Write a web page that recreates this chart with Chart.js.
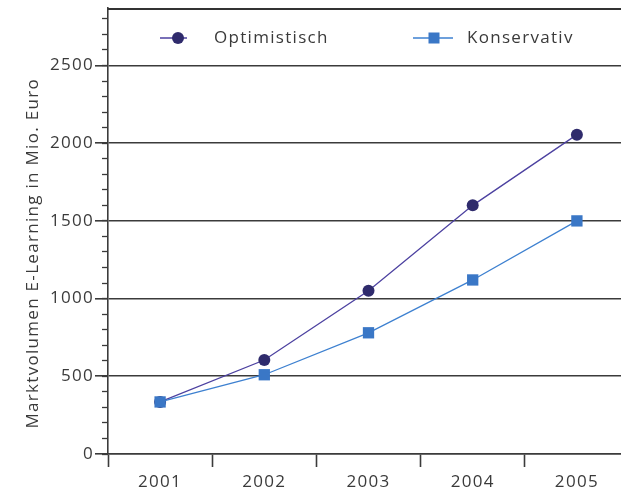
<!DOCTYPE html>
<html>
<head>
<meta charset="utf-8">
<script src="https://cdn.jsdelivr.net/npm/chart.js@4.4.1/dist/chart.umd.min.js"></script>
<style>
html, body { margin: 0; padding: 0; background: #fff; overflow: hidden; }
#wrap { width: 637px; height: 493px; }
canvas { display: block; }
</style>
</head>
<body>
<div id="wrap"><canvas id="chart" width="637" height="493"></canvas></div>
<script>
// values
const years = ['2001', '2002', '2003', '2004', '2005'];
const optimistisch = [335, 605, 1050, 1600, 2055];
const konservativ = [335, 510, 780, 1120, 1500];
const yMax = 2870;
const yTitle = 'Marktvolumen E-Learning in Mio. Euro';

const textColor = '#3a3a3a';
const lineColor = '#3b3b3b';
const font = '"Open Sans", sans-serif';

var ctx = document.getElementById('chart').getContext('2d');

// the source font is wide-set, so space the letters a bit
const spacingPlugin = {
    id: 'spacing',
    beforeUpdate: function(chart) { chart.ctx.letterSpacing = '1.3px'; },
    beforeDraw: function(chart) { chart.ctx.letterSpacing = '1.3px'; }
};

// top frame line, legend inside the plot and the axis title
const extrasPlugin = {
    id: 'extras',
    afterDraw: function(chart) {
        const c = chart.ctx;
        const area = chart.chartArea;
        const topY = chart.scales.y.getPixelForValue(yMax);
        c.save();
        c.strokeStyle = '#333333';
        c.lineWidth = 2;
        c.beginPath();
        c.moveTo(area.left, topY + 1);
        c.lineTo(area.right, topY + 1);
        c.stroke();

        const ly = area.top + 30;
        const items = [
            { x: 160, len: 27, mark: 18, ds: chart.data.datasets[1] },
            { x: 413, len: 40, mark: 21, ds: chart.data.datasets[0] }
        ];
        items.forEach(function(it) {
            c.strokeStyle = it.ds.borderColor;
            c.lineWidth = 1.5;
            c.beginPath();
            c.moveTo(it.x, ly);
            c.lineTo(it.x + it.len, ly);
            c.stroke();
            c.fillStyle = it.ds.pointBackgroundColor;
            if (it.ds.pointStyle === 'rect') {
                c.fillRect(it.x + it.mark - 5.5, ly - 5.5, 11, 11);
            } else {
                c.beginPath();
                c.arc(it.x + it.mark, ly, 6, 0, Math.PI * 2);
                c.fill();
            }
            c.fillStyle = textColor;
            c.font = '17px ' + font;
            c.textBaseline = 'middle';
            c.textAlign = 'left';
            c.fillText(it.ds.label, it.x + 54, ly);
        });

        c.translate(33, area.top + (area.bottom - area.top) * 0.55);
        c.rotate(-Math.PI / 2);
        c.font = '17px ' + font;
        c.textAlign = 'center';
        c.textBaseline = 'middle';
        c.fillStyle = textColor;
        c.fillText(yTitle, 0, 0);
        c.restore();
    }
};

var chart = new Chart(ctx, {
    type: 'line',
    data: {
        labels: years,
        datasets: [{
            label: 'Konservativ',
            data: konservativ,
            borderColor: '#3d80d0',
            borderWidth: 1.3,
            pointStyle: 'rect',
            pointRadius: 8,
            pointBorderWidth: 0,
            pointBackgroundColor: '#3a77c6',
            order: 0
        }, {
            label: 'Optimistisch',
            data: optimistisch,
            borderColor: '#4c41a0',
            borderWidth: 1.3,
            pointStyle: 'circle',
            pointRadius: 6,
            pointBorderWidth: 0,
            pointBackgroundColor: '#2f2b6c',
            order: 1
        }]
    },
    options: {
        responsive: false,
        animation: false,
        layout: { padding: { top: 7, right: 4, left: 0, bottom: 0 } },
        plugins: {
            legend: { display: false },
            tooltip: { enabled: false }
        },
        scales: {
            x: {
                offset: true,
                grid: {
                    offset: true,
                    drawOnChartArea: false,
                    tickLength: 13,
                    tickWidth: 1.6,
                    tickColor: lineColor
                },
                border: { display: true, color: lineColor, width: 1.6 },
                ticks: {
                    color: textColor,
                    font: { family: font, size: 17 },
                    padding: 5,
                    maxRotation: 0
                },
                afterFit: function(scale) {
                    scale.height = 39;
                    scale.paddingLeft = 0;
                    scale.paddingRight = 0;
                }
            },
            y: {
                position: 'left',
                weight: 1,
                min: 0,
                max: yMax,
                grid: {
                    color: function(c) {
                        return c.tick.value % 500 === 0 ? lineColor : 'rgba(0,0,0,0)';
                    },
                    lineWidth: 1.6,
                    tickLength: 13,
                    tickWidth: 1.6,
                    tickColor: function(c) {
                        return c.tick.value % 500 === 0 ? lineColor : 'rgba(0,0,0,0)';
                    }
                },
                border: { display: true, color: lineColor, width: 1.6 },
                ticks: {
                    stepSize: 100,
                    autoSkip: false,
                    padding: 1,
                    color: textColor,
                    font: { family: font, size: 17 },
                    callback: function(v) { return v % 500 === 0 ? v : ''; }
                },
                afterFit: function(scale) {
                    scale.width = 108;
                    scale.paddingTop = 0;
                    scale.paddingBottom = 0;
                }
            },
            yMinor: {
                position: 'left',
                weight: 0,
                min: 0,
                max: yMax,
                grid: {
                    drawOnChartArea: false,
                    tickLength: 6,
                    tickWidth: 1.3,
                    tickColor: lineColor
                },
                border: { display: false },
                ticks: {
                    stepSize: 100,
                    includeBounds: false,
                    display: false
                },
                afterFit: function(scale) {
                    scale.width = 0;
                    scale.paddingTop = 0;
                    scale.paddingBottom = 0;
                }
            }
        }
    },
    plugins: [spacingPlugin, extrasPlugin]
});
</script>
</body>
</html>
